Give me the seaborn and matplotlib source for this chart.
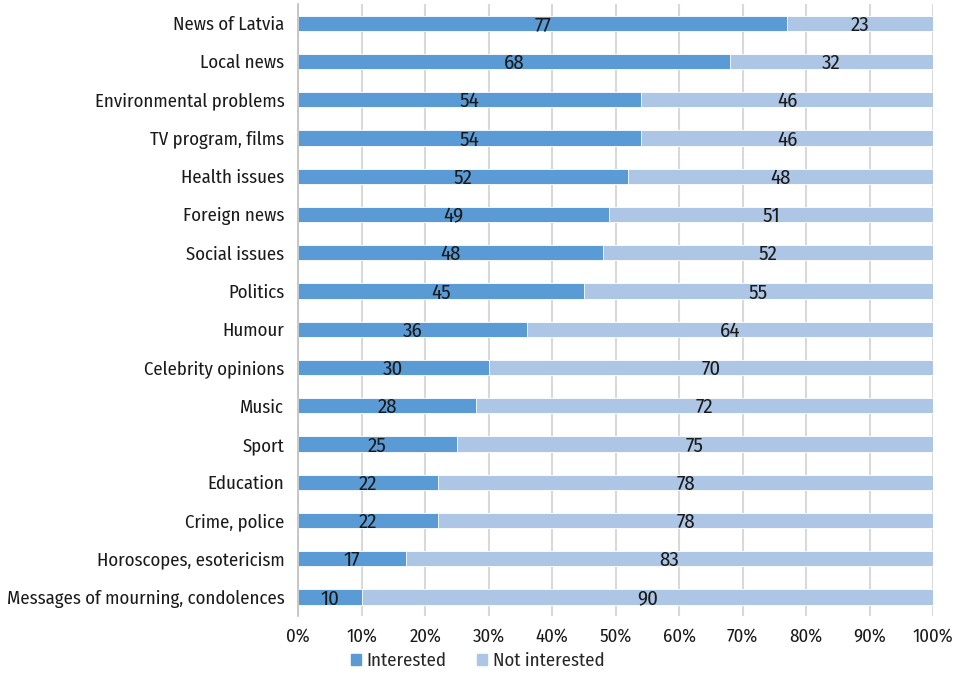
import matplotlib
matplotlib.use("Agg")
import matplotlib.pyplot as plt
from matplotlib import font_manager
from matplotlib.patches import Patch
from matplotlib.ticker import PercentFormatter
import seaborn as sns
import pandas as pd

categories = [
    "News of Latvia", "Local news", "Environmental problems", "TV program, films",
    "Health issues", "Foreign news", "Social issues", "Politics", "Humour",
    "Celebrity opinions", "Music", "Sport", "Education", "Crime, police",
    "Horoscopes, esotericism", "Messages of mourning, condolences",
]
interested = [77, 68, 54, 54, 52, 49, 48, 45, 36, 30, 28, 25, 22, 22, 17, 10]
not_interested = [23, 32, 46, 46, 48, 51, 52, 55, 64, 70, 72, 75, 78, 78, 83, 90]

c_int = "#5b9bd5"
c_not = "#adc6e5"

sns.set_theme(style="white")

# prefer a narrow sans face when one is installed
installed = {f.name for f in font_manager.fontManager.ttflist}
preferred = ["Fira Sans Condensed", "Roboto Condensed", "Open Sans Condensed",
             "Liberation Sans Narrow", "Lato", "Roboto"]
family = [f for f in preferred if f in installed][:1] + ["DejaVu Sans"]
plt.rcParams["font.family"] = family

df = pd.DataFrame({
    "category": categories,
    "interested": interested,
    "not_interested": not_interested,
})
df["total"] = df["interested"] + df["not_interested"]

fig = plt.figure(figsize=(9.65, 6.74), dpi=100)
ax = fig.add_axes([0.309, 0.086, 0.658, 0.908])

sns.barplot(data=df, y="category", x="total", orient="h", color=c_not,
            width=0.4, saturation=1, ax=ax, edgecolor="white", linewidth=0.6)
sns.barplot(data=df, y="category", x="interested", orient="h", color=c_int,
            width=0.4, saturation=1, ax=ax, edgecolor="white", linewidth=0.6)

for i, (a, b) in enumerate(zip(interested, not_interested)):
    ax.text(a / 2, i + 0.05, f"{a}", ha="center", va="center", fontsize=15, color="#1a1a1a")
    ax.text(a + b / 2, i + 0.05, f"{b}", ha="center", va="center", fontsize=15, color="#1a1a1a")

ax.set_xlim(0, 100)
ax.set_ylim(len(categories) - 0.5, -0.5)
ax.set_xticks(range(0, 101, 10))
ax.xaxis.set_major_formatter(PercentFormatter(decimals=0))
ax.set_xlabel("")
ax.set_ylabel("")
ax.grid(axis="x", color="#d9d9d9", linewidth=1.5)
ax.set_axisbelow(True)
for s in ["top", "right", "bottom"]:
    ax.spines[s].set_visible(False)
ax.spines["left"].set_color("#bfbfbf")
ax.spines["left"].set_linewidth(1.2)
ax.tick_params(axis="x", length=0, labelsize=13.5, colors="#1a1a1a", pad=8)
ax.tick_params(axis="y", length=0, labelsize=13.5, colors="#1a1a1a", pad=10)

handles = [Patch(color=c_int, label="Interested"), Patch(color=c_not, label="Not interested")]
fig.legend(handles=handles, loc="center", bbox_to_anchor=(0.495, 0.019), ncol=2,
           frameon=False, fontsize=13.5, handlelength=0.55, handleheight=0.55,
           handletextpad=0.3, columnspacing=1.6)

fig.savefig("out.png", dpi=100)
